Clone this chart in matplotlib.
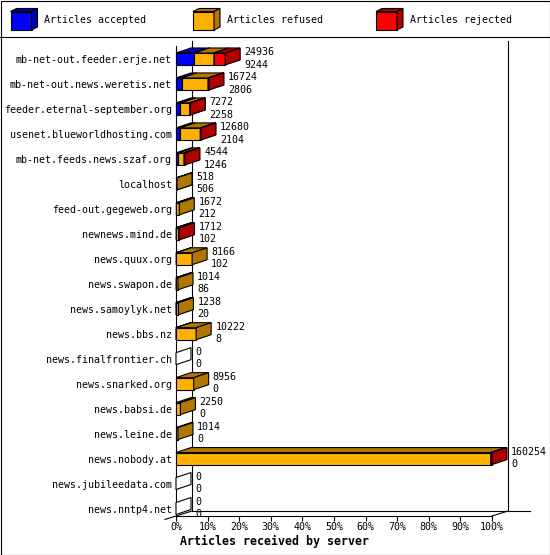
import matplotlib
matplotlib.use("Agg")
import matplotlib.pyplot as plt
from matplotlib.patches import Polygon, Rectangle
from matplotlib.lines import Line2D

# --- data ---
servers = [
    "mb-net-out.feeder.erje.net", "mb-net-out.news.weretis.net",
    "feeder.eternal-september.org", "usenet.blueworldhosting.com",
    "mb-net.feeds.news.szaf.org", "localhost", "feed-out.gegeweb.org",
    "newnews.mind.de", "news.quux.org", "news.swapon.de", "news.samoylyk.net",
    "news.bbs.nz", "news.finalfrontier.ch", "news.snarked.org", "news.babsi.de",
    "news.leine.de", "news.nobody.at", "news.jubileedata.com", "news.nntp4.net",
]
offered = [24936, 16724, 7272, 12680, 4544, 518, 1672, 1712, 8166, 1014,
           1238, 10222, 0, 8956, 2250, 1014, 160254, 0, 0]
accepted = [9244, 2806, 2258, 2104, 1246, 506, 212, 102, 102, 86,
            20, 8, 0, 0, 0, 0, 0, 0, 0]
refused = [10000, 13418, 4714, 10200, 2798, 12, 1460, 1250, 8064, 928,
           1218, 10214, 0, 8956, 2250, 1014, 159600, 0, 0]
rejected = [5692, 500, 300, 376, 500, 0, 0, 360, 0, 0,
            0, 0, 0, 0, 0, 0, 654, 0, 0]

series_names = ["Articles accepted", "Articles refused", "Articles rejected"]
front_colors = ["#0000ff", "#ffb000", "#ff0000"]
dark_colors = ["#0000b0", "#b07800", "#b00000"]

MONO = "DejaVu Sans Mono"
FS = 7.2
LW = 0.8

W, H = 550, 555
fig = plt.figure(figsize=(W / 100, H / 100), dpi=100)
fig.patch.set_facecolor("white")

n = len(servers)
ax = fig.add_axes([176 / W, (H - 516) / H, 316 / W, 470 / H])
ytop, ybot = -0.52, n - 0.7
ax.set_xlim(0, 100)
ax.set_ylim(ybot, ytop)

# pixel -> data helpers for the 3d depth
px_x = 100 / 316
px_y = (ybot - ytop) / 470
bdx, bdy = 15 * px_x, 5 * px_y      # bar depth
adx, ady = 16 * px_x, 5 * px_y      # axis depth
bh = 6 * px_y                        # half bar height


def poly(pts, fc, z):
    ax.add_patch(Polygon(pts, closed=True, facecolor=fc, edgecolor="black",
                         lw=LW, joinstyle="miter", clip_on=False, zorder=z))


total_max = max(offered)
z = 5
for i in range(n):
    top, bot = i - bh, i + bh
    left = 0.0
    for vals, fc, dc in zip([accepted, refused, rejected], front_colors, dark_colors):
        v = vals[i]
        if v == 0:
            continue
        x0, x1 = left, left + v / total_max * 100
        poly([(x0, top), (x1, top), (x1, bot), (x0, bot)], fc, z)
        poly([(x0, top), (x1, top), (x1 + bdx, top - bdy), (x0 + bdx, top - bdy)], dc, z)
        poly([(x1, top), (x1, bot), (x1 + bdx, bot - bdy), (x1 + bdx, top - bdy)], dc, z)
        z += 1
        left = x1
    if offered[i] == 0:
        poly([(0, top), (0, bot), (bdx, bot - bdy), (bdx, top - bdy)], "white", z)
        z += 1
    end = offered[i] / total_max * 100 + bdx
    ax.annotate(f"{offered[i]}\n{accepted[i]}", xy=(end, i), xytext=(3, 0.4),
                textcoords="offset points", ha="left", va="center",
                fontsize=FS, family=MONO, linespacing=1.3,
                annotation_clip=False, zorder=50)

# back walls and floor of the 3d frame
frame = [
    ([adx, adx], [ytop - ady, ybot - ady]),
    ([100 + adx, 100 + adx], [ytop - ady, ybot - ady]),
    ([adx, 100 + adx + 22 * px_x], [ybot - ady, ybot - ady]),
    ([-11 * px_x, adx], [ybot + ady * 11 / 16, ybot - ady]),
    ([100, 100 + adx], [ybot, ybot - ady]),
]
for xs, ys in frame:
    ax.add_line(Line2D(xs, ys, color="black", lw=LW, clip_on=False, zorder=2))

for side in ["top", "right"]:
    ax.spines[side].set_visible(False)
for side in ["left", "bottom"]:
    ax.spines[side].set_linewidth(LW)
    ax.spines[side].set_zorder(3)
ax.patch.set_alpha(0)

xt = list(range(0, 101, 10))
ax.set_xticks(xt)
ax.set_xticklabels([f"{t}%" for t in xt], family=MONO, fontsize=FS)
ax.set_yticks(range(n))
ax.set_yticklabels(servers, family=MONO, fontsize=FS)
ax.tick_params(axis="x", length=3.6, width=LW, direction="out", pad=0.5)
ax.tick_params(axis="y", length=0, pad=3)

ax.set_xlabel("Articles received by server", family=MONO, fontsize=8.4,
              fontweight="bold")
ax.xaxis.set_label_coords(4 / 316, -25 / 470)
ax.xaxis.label.set_ha("left")
ax.xaxis.label.set_va("center")

# legend strip
lax = fig.add_axes([0, (H - 37) / H, 1, 37 / H])
lax.set_xlim(0, W)
lax.set_ylim(37, 0)
lax.axis("off")
leg_x = [10.5, 193, 376]
for lx, name, fc, dc in zip(leg_x, series_names, front_colors, dark_colors):
    f0, f1, t, b = lx, lx + 21, 11.5, 30
    for pts, c in [
        ([(f0, t), (f1, t), (f1, b), (f0, b)], fc),
        ([(f0, t), (f1, t), (f1 + 6, t - 3), (f0 + 6, t - 3)], dc),
        ([(f1, t), (f1, b), (f1 + 6, b - 3), (f1 + 6, t - 3)], dc),
    ]:
        lax.add_patch(Polygon(pts, closed=True, facecolor=c, edgecolor="black",
                              lw=LW, joinstyle="miter", clip_on=False))
    lax.text(lx + 34, 20, name, family=MONO, fontsize=FS, ha="left", va="center")

fig.add_artist(Line2D([0, 1], [(H - 36.5) / H] * 2, color="black", lw=LW))
fig.add_artist(Rectangle((0.5 / W, 0.5 / H), (W - 1) / W, (H - 1) / H,
                         fill=False, edgecolor="black", lw=LW))

fig.savefig("out.png", dpi=100, facecolor="white")
